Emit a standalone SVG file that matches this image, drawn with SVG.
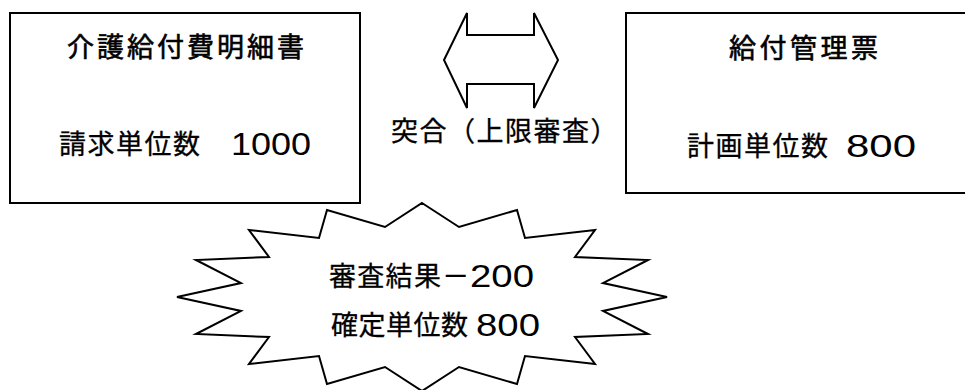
<svg xmlns="http://www.w3.org/2000/svg" width="965" height="390" viewBox="0 0 965 390">
<style>
.shape{fill:#fff;stroke:#000;stroke-width:2;stroke-linejoin:miter}
.jp{font-family:"Noto Sans CJK JP","Noto Sans CJK SC",sans-serif;font-size:27px;fill:#000;stroke:#000;stroke-width:0.3}
.title{stroke-width:0.6}
.num{font-family:"Liberation Sans","Noto Sans CJK JP",sans-serif;font-size:31px;fill:#000}
</style>
<rect width="965" height="390" fill="#fff"/>
<g id="connectors">
<polygon class="shape" points="444,60 467,13 467,35 534,35 534,13 558,60 534,108 534,84 467,84 467,108"/>
</g>
<g id="meisai">
<rect class="shape" x="10" y="13" width="350" height="190"/>
<text class="jp title" x="67" y="57" letter-spacing="3">介護給付費明細書</text>
<text class="jp" x="59" y="154" letter-spacing="1.5">請求単位数</text>
<text class="num" x="231" y="155" textLength="80" lengthAdjust="spacingAndGlyphs">1000</text>
</g>
<g id="kanri">
<rect class="shape" x="626" y="13" width="345" height="180"/>
<text class="jp title" x="729" y="58" letter-spacing="3.5">給付管理票</text>
<text class="jp" x="687" y="156" letter-spacing="1.5">計画単位数</text>
<text class="num" x="846" y="157" textLength="70" lengthAdjust="spacingAndGlyphs">800</text>
</g>
<g id="label">
<text class="jp" x="391" y="141" letter-spacing="1.5">突合（上限審査）</text>
</g>
<g id="result">
<polygon class="shape" points="422,203 459,227 517,210 525,238 595,230 575,257 648,260 603,283 667,297 603,311 648,334 575,337 595,364 525,356 517,384 459,367 422,391 385,367 327,384 319,356 249,364 269,337 196,334 241,311 177,297 241,283 196,260 269,257 249,230 319,238 327,210 385,227"/>
<text class="jp" x="329" y="286" letter-spacing="1.3">審査結果－</text>
<text class="num" x="470" y="287" textLength="64" lengthAdjust="spacingAndGlyphs">200</text>
<text class="jp" x="331" y="335" letter-spacing="0.5">確定単位数</text>
<text class="num" x="476" y="336" textLength="64" lengthAdjust="spacingAndGlyphs">800</text>
</g>
</svg>
